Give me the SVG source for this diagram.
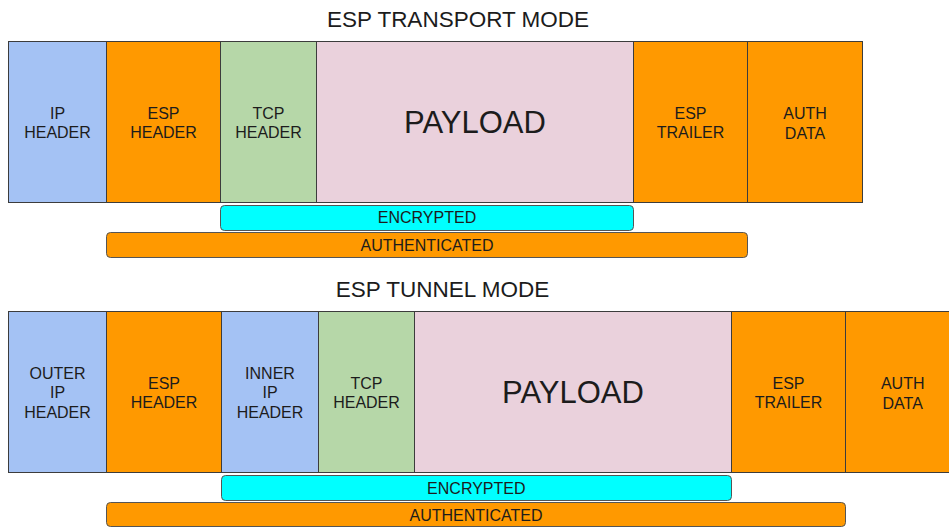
<svg xmlns="http://www.w3.org/2000/svg" width="949" height="527" viewBox="0 0 949 527">
  <style>
    .cell { stroke: #3c3c3c; stroke-width: 1; }
    .bar { stroke: #555555; stroke-width: 1; }
    .ip { fill: #a4c2f4; }
    .esp { fill: #ff9900; }
    .tcp { fill: #b6d7a8; }
    .pay { fill: #ead1dc; }
    .enc { fill: #00ffff; }
    text { font-family: "Liberation Sans", Arial, sans-serif; fill: #1c1c1c; text-anchor: middle; }
    .lbl { font-size: 16px; }
    .big { font-size: 31px; }
    .title { font-size: 22.5px; }
  </style>
  <rect width="949" height="527" fill="#ffffff"/>

  <!-- Transport mode packet -->
  <text class="title" x="458" y="26.5">ESP TRANSPORT MODE</text>
  <g id="t-ip-header">
    <rect class="cell ip" x="8.5" y="41.5" width="98" height="161"/>
    <text class="lbl" x="57.5" y="119.3">IP</text>
    <text class="lbl" x="57.5" y="138.3">HEADER</text>
  </g>
  <g id="t-esp-header">
    <rect class="cell esp" x="106.5" y="41.5" width="114" height="161"/>
    <text class="lbl" x="163.5" y="119.3">ESP</text>
    <text class="lbl" x="163.5" y="138.3">HEADER</text>
  </g>
  <g id="t-tcp-header">
    <rect class="cell tcp" x="220.5" y="41.5" width="96" height="161"/>
    <text class="lbl" x="268.5" y="119.3">TCP</text>
    <text class="lbl" x="268.5" y="138.3">HEADER</text>
  </g>
  <g id="t-payload">
    <rect class="cell pay" x="316.5" y="41.5" width="317" height="161"/>
    <text class="big" x="475" y="133.3">PAYLOAD</text>
  </g>
  <g id="t-esp-trailer">
    <rect class="cell esp" x="633.5" y="41.5" width="114" height="161"/>
    <text class="lbl" x="690.5" y="119.3">ESP</text>
    <text class="lbl" x="690.5" y="138.3">TRAILER</text>
  </g>
  <g id="t-auth-data">
    <rect class="cell esp" x="747.5" y="41.5" width="115" height="161"/>
    <text class="lbl" x="805" y="118.5">AUTH</text>
    <text class="lbl" x="805" y="139.3">DATA</text>
  </g>
  <g id="t-encrypted">
    <rect class="bar enc" x="220.5" y="205.5" width="413" height="25" rx="4"/>
    <text class="lbl" x="427" y="223.3">ENCRYPTED</text>
  </g>
  <g id="t-authenticated">
    <rect class="bar esp" x="106.5" y="232.5" width="641" height="25" rx="4"/>
    <text class="lbl" x="427" y="250.7">AUTHENTICATED</text>
  </g>

  <!-- Tunnel mode packet -->
  <text class="title" x="442.5" y="296.7">ESP TUNNEL MODE</text>
  <g id="u-outer-ip-header">
    <rect class="cell ip" x="8.5" y="311.5" width="98" height="161"/>
    <text class="lbl" x="57.5" y="379.3">OUTER</text>
    <text class="lbl" x="57.5" y="398.3">IP</text>
    <text class="lbl" x="57.5" y="417.7">HEADER</text>
  </g>
  <g id="u-esp-header">
    <rect class="cell esp" x="106.5" y="311.5" width="115" height="161"/>
    <text class="lbl" x="164" y="389.3">ESP</text>
    <text class="lbl" x="164" y="408.3">HEADER</text>
  </g>
  <g id="u-inner-ip-header">
    <rect class="cell ip" x="221.5" y="311.5" width="97" height="161"/>
    <text class="lbl" x="270" y="379.3">INNER</text>
    <text class="lbl" x="270" y="398.3">IP</text>
    <text class="lbl" x="270" y="417.7">HEADER</text>
  </g>
  <g id="u-tcp-header">
    <rect class="cell tcp" x="318.5" y="311.5" width="96" height="161"/>
    <text class="lbl" x="366.5" y="389.3">TCP</text>
    <text class="lbl" x="366.5" y="408.3">HEADER</text>
  </g>
  <g id="u-payload">
    <rect class="cell pay" x="414.5" y="311.5" width="317" height="161"/>
    <text class="big" x="573" y="403.3">PAYLOAD</text>
  </g>
  <g id="u-esp-trailer">
    <rect class="cell esp" x="731.5" y="311.5" width="114" height="161"/>
    <text class="lbl" x="788.5" y="389.3">ESP</text>
    <text class="lbl" x="788.5" y="408.3">TRAILER</text>
  </g>
  <g id="u-auth-data">
    <rect class="cell esp" x="845.5" y="311.5" width="115" height="161"/>
    <text class="lbl" x="902.7" y="388.5">AUTH</text>
    <text class="lbl" x="902.7" y="409.3">DATA</text>
  </g>
  <g id="u-encrypted">
    <rect class="bar enc" x="221.5" y="475.5" width="510" height="25" rx="4"/>
    <text class="lbl" x="476.3" y="494">ENCRYPTED</text>
  </g>
  <g id="u-authenticated">
    <rect class="bar esp" x="106.5" y="502.5" width="739" height="24" rx="4"/>
    <text class="lbl" x="476" y="520.7">AUTHENTICATED</text>
  </g>
</svg>
